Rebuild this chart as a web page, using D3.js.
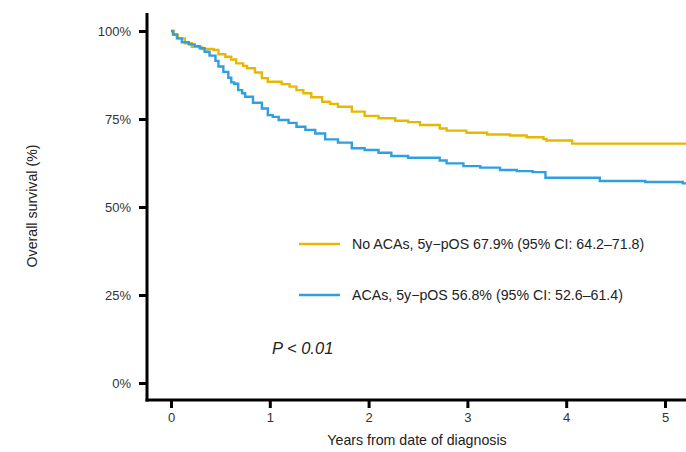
<!DOCTYPE html>
<html>
<head>
<meta charset="utf-8">
<script src="https://cdn.jsdelivr.net/npm/d3@7"></script>
<style>
  body { margin: 0; background: #fff; }
  text { font-family: "Liberation Sans", Arial, sans-serif; }
</style>
</head>
<body>
<div id="chart"></div>
<script>
var svgWidth = 686;
var svgHeight = 452;

// survival (%), years from diagnosis
var noAcaTime = [0, 0.03, 0.07, 0.14, 0.21, 0.31, 0.43, 0.48, 0.55, 0.61, 0.66, 0.73, 0.77, 0.85, 0.92, 0.98, 1.12, 1.20, 1.27, 1.34, 1.42, 1.53, 1.61, 1.69, 1.83, 1.96, 2.10, 2.27, 2.40, 2.52, 2.72, 2.79, 2.99, 3.20, 3.43, 3.60, 3.77, 3.80, 4.06, 5.25];
var noAcaSurv = [100, 98.9, 97.9, 96.5, 95.5, 94.9, 94.6, 93.4, 92.7, 91.9, 90.8, 90.1, 89.4, 88.2, 86.6, 85.6, 84.9, 84.2, 83.2, 82.3, 81.2, 79.9, 79.3, 78.5, 77.1, 75.9, 75.2, 74.5, 74.1, 73.3, 72.3, 71.7, 71.1, 70.6, 70.3, 69.8, 69.3, 68.9, 68.0, 68.0];

var acaTime = [0, 0.02, 0.06, 0.11, 0.18, 0.24, 0.29, 0.34, 0.39, 0.45, 0.48, 0.53, 0.58, 0.61, 0.64, 0.68, 0.72, 0.75, 0.83, 0.92, 0.98, 1.03, 1.09, 1.19, 1.27, 1.36, 1.46, 1.56, 1.69, 1.83, 1.96, 2.10, 2.23, 2.40, 2.72, 2.79, 2.96, 3.13, 3.33, 3.50, 3.66, 3.79, 4.34, 4.80, 5.18, 5.25];
var acaSurv = [100, 99.0, 97.9, 96.8, 96.2, 95.7, 95.1, 94.1, 93.0, 91.5, 89.9, 88.4, 86.7, 85.4, 85.0, 83.2, 82.3, 81.3, 79.6, 78.0, 76.1, 75.6, 74.7, 73.9, 72.8, 71.9, 70.9, 69.2, 68.3, 66.7, 66.2, 65.4, 64.5, 64.0, 63.2, 62.4, 61.6, 61.2, 60.5, 60.2, 59.9, 58.3, 57.4, 57.1, 56.7, 56.7];

var yTicks = [0, 25, 50, 75, 100];
var xTicks = [0, 1, 2, 3, 4, 5];

var legendLabels = [
  "No ACAs, 5y\u2212pOS 67.9% (95% CI: 64.2\u201371.8)",
  "ACAs, 5y\u2212pOS 56.8% (95% CI: 52.6\u201361.4)"
];
var colors = ["#E7B800", "#2E9FDF"];

var svg = d3.select("#chart")
  .append("svg")
  .attr("width", svgWidth)
  .attr("height", svgHeight);

var xScale = d3.scaleLinear().domain([0, 5]).range([171, 665]);
var yScale = d3.scaleLinear().domain([0, 100]).range([383, 31]);

svg.append("clipPath").attr("id", "plotclip")
  .append("rect").attr("x", 148).attr("y", 0).attr("width", 538).attr("height", 399);

var line = d3.line()
  .x(d => xScale(d[0]))
  .y(d => yScale(d[1]))
  .curve(d3.curveStepAfter);

var series = [
  d3.zip(noAcaTime, noAcaSurv),
  d3.zip(acaTime, acaSurv)
];

var curves = svg.append("g").attr("clip-path", "url(#plotclip)");
curves.append("path")
  .datum(series[0])
  .attr("d", line)
  .attr("fill", "none")
  .attr("stroke", colors[0])
  .attr("stroke-width", 2.4);
curves.append("path")
  .datum(series[1])
  .attr("d", line)
  .attr("fill", "none")
  .attr("stroke", colors[1])
  .attr("stroke-width", 2.4);

// axes
var leftAxis = d3.axisLeft(yScale)
  .tickValues(yTicks)
  .tickFormat(d => d + "%")
  .tickSize(8)
  .tickPadding(8);

var yAxis = svg.append("g")
  .attr("transform", "translate(147,0)")
  .call(leftAxis);
yAxis.select(".domain").remove();
yAxis.append("line")
  .attr("x1", 0).attr("x2", 0)
  .attr("y1", 13).attr("y2", 401.5)
  .attr("stroke", "#000").attr("stroke-width", 3);

var bottomAxis = d3.axisBottom(xScale)
  .tickValues(xTicks)
  .tickFormat(d3.format("d"))
  .tickSize(8)
  .tickPadding(5);

var xAxis = svg.append("g")
  .attr("transform", "translate(0,400)")
  .call(bottomAxis);
xAxis.select(".domain").remove();
xAxis.append("line")
  .attr("x1", 145.5).attr("x2", 686)
  .attr("y1", 0).attr("y2", 0)
  .attr("stroke", "#000").attr("stroke-width", 3);

svg.selectAll(".tick line").attr("stroke", "#000").attr("stroke-width", 3);
svg.selectAll(".tick text")
  .attr("fill", "#333")
  .style("font-size", "13px")
  .style("font-family", "'Liberation Sans', Arial, sans-serif");

// axis titles
svg.append("text")
  .attr("x", 417)
  .attr("y", 445)
  .attr("text-anchor", "middle")
  .attr("fill", "#222")
  .style("font-size", "14.2px")
  .text("Years from date of diagnosis");

svg.append("text")
  .attr("transform", "translate(37,206) rotate(-90)")
  .attr("text-anchor", "middle")
  .attr("fill", "#222")
  .style("font-size", "14.2px")
  .text("Overall survival (%)");

// legend
var legend = svg.append("g");
legendLabels.forEach(function(lab, i) {
  var ly = 244 + i * 51;
  legend.append("line")
    .attr("x1", 299).attr("x2", 340)
    .attr("y1", ly).attr("y2", ly)
    .attr("stroke", colors[i]).attr("stroke-width", 2.4);
  legend.append("text")
    .attr("x", 352)
    .attr("y", ly + 5)
    .attr("fill", "#222")
    .style("font-size", "14.2px")
    .text(lab);
});

svg.append("text")
  .attr("x", 272)
  .attr("y", 354)
  .attr("fill", "#222")
  .style("font-size", "16.5px")
  .style("font-style", "italic")
  .text("P < 0.01");
</script>
</body>
</html>
